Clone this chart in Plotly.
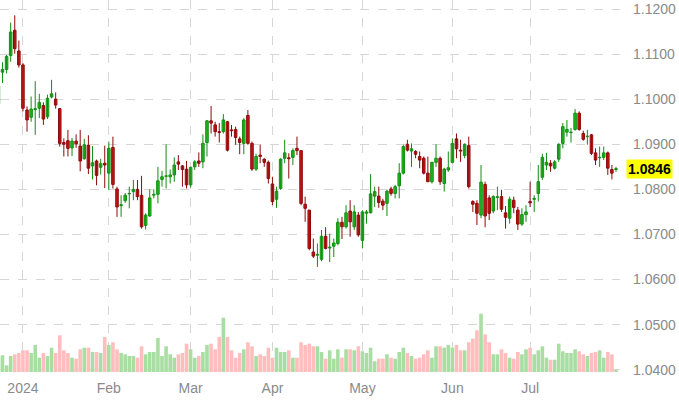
import plotly.graph_objects as go

opens = [1.0990,1.1060,1.1066,1.1097,1.1153,1.1107,1.1076,1.0976,1.0960,1.0977,
1.0980,1.0986,1.0961,1.1005,1.1000,1.0979,1.0904,1.0908,1.0892,1.0907,
1.0896,1.0868,1.0898,1.0852,1.0863,1.0849,1.0858,1.0836,1.0893,1.0801,
1.0764,1.0775,1.0790,1.0795,1.0800,1.0787,1.0720,1.0741,1.0787,1.0789,
1.0822,1.0829,1.0828,1.0832,1.0861,1.0852,1.0845,1.0810,1.0850,1.0863,
1.0861,1.0904,1.0952,1.0943,1.0928,1.0928,1.0950,1.0932,1.0933,1.0912,
1.0902,1.0964,1.0902,1.0845,1.0876,1.0867,1.0860,1.0812,1.0778,1.0802,
1.0869,1.0870,1.0871,1.0891,1.0886,1.0767,1.0754,1.0661,1.0654,1.0645,
1.0696,1.0670,1.0674,1.0680,1.0727,1.0717,1.0752,1.0717,1.0743,1.0687,
1.0747,1.0748,1.0785,1.0785,1.0774,1.0769,1.0801,1.0791,1.0808,1.0836,
1.0900,1.0885,1.0884,1.0873,1.0869,1.0836,1.0817,1.0860,1.0869,1.0813,
1.0843,1.0860,1.0912,1.0887,1.0875,1.0897,1.0773,1.0769,1.0743,1.0811,
1.0781,1.0752,1.0782,1.0784,1.0748,1.0736,1.0776,1.0754,1.0723,1.0744,
1.0773,1.0778,1.0791,1.0827,1.0854,1.0858,1.0847,1.0867,1.0902,1.0927,
1.0926,1.0933,1.0969,1.0924,1.0917,1.0921,1.0881,1.0870,1.0871,1.0881,
1.0844,1.0844]
highs = [1.1045,1.1082,1.1098,1.1170,1.1186,1.1130,1.1080,1.0984,1.1006,1.1040,
1.1012,1.0993,1.1010,1.1043,1.1015,1.0980,1.0913,1.0932,1.0914,1.0922,
1.0932,1.0912,1.0920,1.0896,1.0866,1.0868,1.0897,1.0906,1.0917,1.0806,
1.0787,1.0792,1.0806,1.0821,1.0821,1.0830,1.0747,1.0800,1.0800,1.0850,
1.0841,1.0900,1.0844,1.0871,1.0876,1.0854,1.0863,1.0850,1.0865,1.0882,
1.0922,1.0954,1.0985,1.0950,1.0947,1.0967,1.0952,1.0943,1.0939,1.0917,
1.0958,1.0976,1.0906,1.0879,1.0899,1.0869,1.0864,1.0828,1.0806,1.0869,
1.0910,1.0880,1.0891,1.0917,1.0887,1.0784,1.0754,1.0691,1.0680,1.0710,
1.0716,1.0702,1.0691,1.0736,1.0739,1.0765,1.0776,1.0765,1.0750,1.0754,
1.0754,1.0834,1.0806,1.0806,1.0779,1.0799,1.0806,1.0810,1.0858,1.0899,
1.0910,1.0902,1.0887,1.0884,1.0873,1.0873,1.0861,1.0900,1.0873,1.0848,
1.0884,1.0913,1.0924,1.0910,1.0902,1.0917,1.0776,1.0776,1.0854,1.0817,
1.0787,1.0787,1.0806,1.0799,1.0763,1.0784,1.0784,1.0761,1.0758,1.0765,
1.0817,1.0787,1.0854,1.0879,1.0881,1.0865,1.0865,1.0902,1.0947,1.0954,
1.0936,1.0978,1.0973,1.0930,1.0932,1.0923,1.0891,1.0895,1.0895,1.0884,
1.0854,1.0850]
lows = [1.0978,1.1036,1.1057,1.1083,1.1101,1.1070,1.0973,1.0928,1.0950,1.0921,
1.0958,1.0943,1.0956,1.1002,1.0979,1.0895,1.0873,1.0873,1.0874,1.0892,
1.0840,1.0866,1.0834,1.0822,1.0809,1.0833,1.0803,1.0799,1.0802,1.0739,
1.0739,1.0770,1.0758,1.0776,1.0776,1.0713,1.0711,1.0739,1.0780,1.0769,
1.0806,1.0802,1.0813,1.0817,1.0843,1.0806,1.0802,1.0804,1.0843,1.0850,
1.0847,1.0873,1.0924,1.0917,1.0904,1.0924,1.0884,1.0917,1.0899,1.0878,
1.0878,1.0899,1.0841,1.0841,1.0858,1.0850,1.0813,1.0765,1.0759,1.0799,
1.0858,1.0824,1.0854,1.0876,1.0765,1.0728,1.0665,1.0648,1.0628,1.0641,
1.0667,1.0639,1.0650,1.0676,1.0690,1.0713,1.0695,1.0710,1.0695,1.0669,
1.0724,1.0747,1.0761,1.0759,1.0754,1.0741,1.0786,1.0780,1.0780,1.0833,
1.0884,1.0850,1.0869,1.0847,1.0833,1.0817,1.0813,1.0850,1.0810,1.0795,
1.0839,1.0858,1.0869,1.0861,1.0869,1.0802,1.0750,1.0721,1.0736,1.0716,
1.0732,1.0747,1.0754,1.0750,1.0713,1.0724,1.0747,1.0710,1.0719,1.0728,
1.0761,1.0750,1.0773,1.0821,1.0843,1.0839,1.0844,1.0861,1.0891,1.0917,
1.0904,1.0930,1.0930,1.0908,1.0899,1.0876,1.0854,1.0850,1.0865,1.0832,
1.0822,1.0839]
closes = [1.1030,1.1066,1.1095,1.1149,1.1112,1.1076,1.0980,1.0954,1.0978,1.0979,
1.0993,1.0956,1.1002,1.1012,1.0987,1.0902,1.0900,1.0891,1.0907,1.0901,
1.0863,1.0899,1.0847,1.0859,1.0831,1.0857,1.0854,1.0891,1.0811,1.0761,
1.0766,1.0787,1.0791,1.0800,1.0784,1.0717,1.0743,1.0781,1.0789,1.0819,
1.0828,1.0830,1.0832,1.0854,1.0856,1.0844,1.0810,1.0849,1.0861,1.0858,
1.0902,1.0952,1.0947,1.0928,1.0926,1.0954,1.0887,1.0930,1.0915,1.0904,
1.0954,1.0902,1.0845,1.0873,1.0873,1.0860,1.0824,1.0773,1.0796,1.0867,
1.0881,1.0868,1.0886,1.0886,1.0769,1.0758,1.0669,1.0652,1.0656,1.0696,
1.0669,1.0672,1.0681,1.0727,1.0717,1.0748,1.0728,1.0750,1.0699,1.0750,
1.0750,1.0790,1.0795,1.0771,1.0765,1.0796,1.0791,1.0806,1.0836,1.0895,
1.0887,1.0890,1.0878,1.0865,1.0836,1.0817,1.0860,1.0869,1.0817,1.0845,
1.0848,1.0902,1.0890,1.0885,1.0900,1.0806,1.0767,1.0747,1.0816,1.0741,
1.0747,1.0784,1.0784,1.0756,1.0738,1.0778,1.0760,1.0723,1.0744,1.0750,
1.0770,1.0780,1.0817,1.0871,1.0860,1.0852,1.0861,1.0900,1.0939,1.0933,
1.0927,1.0969,1.0933,1.0911,1.0918,1.0880,1.0865,1.0871,1.0881,1.0847,
1.0836,1.0846]
volumes = [15,16.7,6.7,16,17.7,19,21.7,21.7,19,27,
14.3,19,16,24.3,19,36.7,21.7,19,14.3,13.3,
22.7,24.3,24.3,20,20,19,35,27,29.7,22.7,
19,17.7,16,16,14.3,25.7,17.7,20,20,34,
16,25.7,17.7,14.3,17.7,19,28.3,22.7,14.3,16,
20,27,28.3,22.7,35,54.3,35,21.7,14.3,19,
22.7,29.7,25.7,16,17.7,16,24.3,14.3,24.3,20,
20,21.7,14.3,14.3,29.7,27,28.3,25.7,25.7,20,
13.3,21.7,13.3,22.7,
14.3,22.7,22.7,21.7,25.7,20.7,19,24.3,10.7,13.3,
13.3,17.7,14.3,13.3,20,24.3,19,16,13.3,14.3,
17.7,21.7,14.3,25.7,25.7,24.3,27,24.3,27,21.7,
21.7,29.7,33.3,41.7,58.3,37.7,29.7,17.7,17.7,22.7,
19,14.3,13.3,20,17.7,22.7,24.3,17.7,21.7,25.7,
14.3,12.3,12.3,28.3,20.7,19,19,22.7,20.7,17.7,
16,19,20,21.7,14.3,20,17.7,2.3]

month_labels = ["2024", "Feb", "Mar", "Apr", "May", "Jun", "Jul"]
month_start_index = [6, 27, 47, 67, 89, 111, 130]
last_price = closes[-1]

n = len(closes)
idx = list(range(n))
up = [c >= o for o, c in zip(opens, closes)]

UP_FILL, UP_LINE = "#2ee02e", "#128c12"
DN_FILL, DN_LINE = "#ec2424", "#8e0a0a"
vol_colors = ["#a8dea2" if u else "#ffbdbd" for u in up]

fig = go.Figure()
# volume
fig.add_trace(go.Bar(
    x=idx, y=volumes, yaxis="y2", width=0.88,
    marker=dict(color=vol_colors, line=dict(width=0)),
    hoverinfo="skip", showlegend=False,
))
# wicks
for is_up, col in ((True, UP_LINE), (False, DN_LINE)):
    wx, wy = [], []
    for i in idx:
        if up[i] == is_up:
            wx += [i, i, None]
            wy += [lows[i], highs[i], None]
    fig.add_trace(go.Scatter(x=wx, y=wy, mode="lines", line=dict(color=col, width=1),
                             hoverinfo="skip", showlegend=False))
# bodies
for is_up, fill, col in ((True, UP_FILL, UP_LINE), (False, DN_FILL, DN_LINE)):
    bx = [i for i in idx if up[i] == is_up]
    base = [min(opens[i], closes[i]) for i in bx]
    hgt = [max(abs(closes[i] - opens[i]), 0.00004) for i in bx]
    fig.add_trace(go.Bar(x=bx, y=hgt, base=base, width=0.62,
                         marker=dict(color=fill, line=dict(color=col, width=1)),
                         hoverinfo="skip", showlegend=False))

gridc = "#d6d6d6"
fig.update_layout(
    width=679, height=401,
    margin=dict(l=0, r=59, t=0, b=29),
    paper_bgcolor="white", plot_bgcolor="white",
    barmode="overlay",
    font=dict(family="Liberation Sans, Arial, sans-serif", size=14, color="#8a8a8a"),
    xaxis=dict(
        range=[0.39, 151.98],
        tickmode="array", tickvals=month_start_index, ticktext=month_labels,
        showgrid=True, gridcolor=gridc, griddash="dash", gridwidth=1,
        zeroline=False, showline=False, ticks="", ticklabelstandoff=6,
    ),
    yaxis=dict(
        side="right", range=[1.0395, 1.1220], dtick=0.01, tick0=1.04,
        tickformat=".4f", showgrid=True, gridcolor=gridc, griddash="dash",
        gridwidth=1, zeroline=False, showline=False, ticks="", ticklabelstandoff=12,
    ),
    yaxis2=dict(
        overlaying="y", range=[0, 372], visible=False, showgrid=False,
    ),
    annotations=[dict(
        x=1, xref="paper", xanchor="left", xshift=6, y=last_price, yref="y",
        text="<b>%.4f</b>" % last_price, showarrow=False,
        bgcolor="#ffff00", font=dict(color="#000000", size=14,
                                     family="Liberation Sans, Arial, sans-serif"),
        borderpad=1,
    )],
)

fig.write_html("out.html")
